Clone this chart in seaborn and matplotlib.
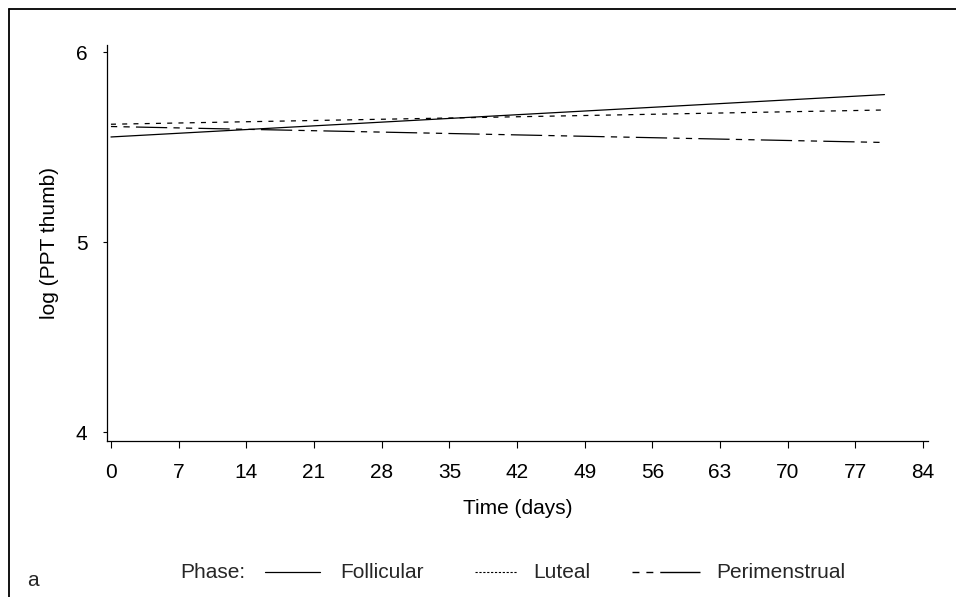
import numpy as np
import pandas as pd
import seaborn as sns
import matplotlib
matplotlib.use("Agg")
import matplotlib.pyplot as plt
from matplotlib.lines import Line2D

# data
phases = ["Follicular", "Luteal", "Perimenstrual"]
days = [0, 80]
follicular = [5.553, 5.776]
luteal = [5.620, 5.695]
perimenstrual = [5.608, 5.524]
x_ticks = [0, 7, 14, 21, 28, 35, 42, 49, 56, 63, 70, 77, 84]
y_ticks = [4, 5, 6]

sns.set_theme(style="white")
plt.rcParams["font.family"] = ["Liberation Sans", "DejaVu Sans"]

df = pd.DataFrame({
    "Time": days * 3,
    "value": follicular + luteal + perimenstrual,
    "Phase": [p for p in phases for _ in days],
})

dash_map = {
    "Follicular": "",
    "Luteal": (4, 5),
    "Perimenstrual": (5, 5, 5, 5, 25, 5),
}

FS = 15
fig = plt.figure(figsize=(9.56, 5.97), dpi=100)
ax = fig.add_axes([107 / 956, 1 - 441 / 597, (928 - 107) / 956, (441 - 45) / 597])

sns.lineplot(data=df, x="Time", y="value", hue="Phase", style="Phase",
             palette=["black"] * 3, dashes=dash_map, linewidth=0.9, ax=ax,
             legend=False)

ax.set_xlim(-0.41, 84.5)
ax.set_ylim(3.953, 6.037)
ax.set_xticks(x_ticks)
ax.set_yticks(y_ticks)
for s in ["top", "right"]:
    ax.spines[s].set_visible(False)
for s in ["left", "bottom"]:
    ax.spines[s].set_color("black")
    ax.spines[s].set_linewidth(0.9)
ax.tick_params(axis="x", direction="out", length=5, width=0.8, pad=11,
               labelsize=FS, colors="black", bottom=True)
ax.tick_params(axis="y", direction="out", length=3, width=0.8, pad=11,
               labelsize=FS, colors="black", left=True)
ax.set_xlabel("Time (days)", fontsize=FS, color="black", labelpad=12)
ax.set_ylabel("log (PPT thumb)", fontsize=FS, color="black", labelpad=12)
ax.grid(False)

# legend row (drawn manually to match entry spacing)
ly = 1 - 572 / 597
fig.text(245 / 956, ly, "Phase:", ha="right", va="center", fontsize=FS)
legend_items = [
    ("Follicular", 265, 320, 340, "-", 0.9),
    ("Luteal", 475, 517, 533, (0, (2.0, 1.5)), 0.8),
    ("Perimenstrual", 632, 700, 716, (0, (5, 5, 5, 5, 30, 0.01)), 1.0),
]
for name, x0, x1, xt, ls, lw in legend_items:
    fig.add_artist(Line2D([x0 / 956, x1 / 956], [ly, ly], transform=fig.transFigure,
                          color="black", lw=lw, linestyle=ls))
    fig.text(xt / 956, ly, name, ha="left", va="center", fontsize=FS)

fig.text(27 / 956, 1 - 581 / 597, "a", ha="left", va="center", fontsize=FS)

# figure frame (left and top edges)
fig.add_artist(Line2D([9 / 956, 9 / 956], [0, 1 - 9 / 597], transform=fig.transFigure,
                      color="black", lw=1.3))
fig.add_artist(Line2D([9 / 956, 1], [1 - 9 / 597, 1 - 9 / 597], transform=fig.transFigure,
                      color="black", lw=1.3))

fig.savefig("out.png", dpi=100)
